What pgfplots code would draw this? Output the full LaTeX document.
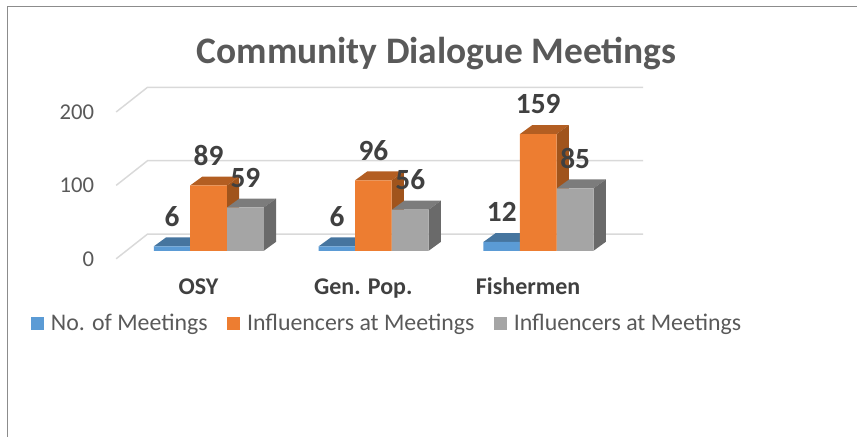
\documentclass[border=0pt]{standalone}
\usepackage{pgfplots}
\pgfplotsset{compat=1.18}
\usepackage{fontspec}
\setmainfont{Carlito}
\definecolor{cblue}{HTML}{5B9BD5}\definecolor{cblueT}{HTML}{46759F}\definecolor{cblueS}{HTML}{3F6A91}
\definecolor{corange}{HTML}{ED7D31}\definecolor{corangeT}{HTML}{B35E22}\definecolor{corangeS}{HTML}{A0541C}
\definecolor{cgray}{HTML}{A5A5A5}\definecolor{cgrayT}{HTML}{7C7C7C}\definecolor{cgrayS}{HTML}{6A6A6A}
\definecolor{cgrid}{HTML}{D9D9D9}
\definecolor{clabel}{HTML}{404040}
\definecolor{ctext}{HTML}{595959}
% depth of a bar in axis units
\newcommand{\bw}{0.2224}
\newcommand{\dx}{0.0745}
\newcommand{\dy}{12.2}
% top and side face of the bar whose left front edge is at #1, value #2
\newcommand{\faces}[4]{%
  \addplot[forget plot,fill=#3,draw=none] coordinates {({#1},#2) ({#1+\dx},{#2+\dy}) ({#1+\bw+\dx},{#2+\dy}) ({#1+\bw},#2)} --cycle;
  \addplot[forget plot,fill=#4,draw=none] coordinates {({#1+\bw},#2) ({#1+\bw+\dx},{#2+\dy}) ({#1+\bw+\dx},{\dy}) ({#1+\bw},0)} --cycle;
}
\newcommand{\gridl}[1]{%
  \addplot[forget plot,draw=cgrid,line width=1.1pt] coordinates {(-0.499,{#1-10.9}) (-0.309,{#1+22.7}) (2.697,{#1+22.7})};
}
\pgfplotsset{labelled/.style={forget plot,draw=none,mark=none,nodes near coords,point meta=y,
  /pgf/number format/assume math mode=true,
  every node near coord/.style={font=\fontsize{22}{24}\bfseries\selectfont,text=clabel,anchor=center,yshift=22.5pt,
    /pgf/number format/assume math mode=true}}}
\begin{document}
\begin{tikzpicture}[x=0.75pt,y=-0.75pt]
\path (0,0) rectangle (858,437);
\draw[color=black!45,line width=1.1pt] (7.5,437) -- (7.5,6.7) -- (858,6.7);
\node[font=\fontsize{28.1}{30}\bfseries\selectfont,text=ctext,anchor=center] at (437,54) {Community Dialogue Meetings};
\begin{axis}[
  at={(87.2pt,-194.25pt)},anchor=south west,
  scale only axis,width=395.5pt,height=128.7pt,
  xmin=-0.499,xmax=2.697,ymin=-10.9,ymax=222.7,
  clip=false,
  axis line style={draw=none},
  tick style={draw=none},
  xtick={0,1,2},xticklabels={OSY,Gen. Pop.,Fishermen},
  ytick={-10.9,89.1,189.1},yticklabels={0,100,200},
  y tick label style={font=\fontsize{17}{18}\selectfont,text=ctext,xshift=-13pt},
  x tick label style={font=\fontsize{18}{20}\bfseries\selectfont,text=clabel,anchor=base,yshift=-27pt},
  legend style={at={(-0.1612,-0.376)},anchor=west,draw=none,fill=none,
    font=\fontsize{17.9}{20}\selectfont,text=ctext,inner sep=0pt,outer sep=0pt,
    /tikz/every even column/.append style={column sep=12.7pt},
    /tikz/every odd column/.append style={column sep=3pt}},
  legend columns=3,
  legend image code/.code={\fill[#1,draw=none] (0,-4.9pt) rectangle (9.8pt,4.9pt);},
]
\gridl{0}\gridl{100}\gridl{200}
% No. of Meetings
\faces{-0.271}{6}{cblueT}{cblueS}
\faces{0.729}{6}{cblueT}{cblueS}
\faces{1.729}{12}{cblueT}{cblueS}
\addplot[ybar,bar width=0.2224,bar shift=-0.1598,fill=cblue,draw=none] coordinates {(0,6) (1,6) (2,12)};
\addlegendentry{No. of Meetings}
% Influencers at Meetings
\faces{-0.05}{89}{corangeT}{corangeS}
\faces{0.95}{96}{corangeT}{corangeS}
\faces{1.95}{159}{corangeT}{corangeS}
\addplot[ybar,bar width=0.2224,bar shift=0.0612,fill=corange,draw=none] coordinates {(0,89) (1,96) (2,159)};
\addlegendentry{Influencers at Meetings}
% Influencers at Meetings (second)
\faces{0.174}{59}{cgrayT}{cgrayS}
\faces{1.174}{56}{cgrayT}{cgrayS}
\faces{2.174}{85}{cgrayT}{cgrayS}
\addplot[ybar,bar width=0.2224,bar shift=0.2852,fill=cgray,draw=none] coordinates {(0,59) (1,56) (2,85)};
\addlegendentry{Influencers at Meetings}
% data labels
\addplot[labelled] coordinates {(-0.1598,6) (0.8402,6) (1.8402,12)};
\addplot[labelled] coordinates {(0.0612,89) (1.0612,96) (2.0612,159)};
\addplot[labelled] coordinates {(0.2852,59) (1.2852,56) (2.2852,85)};
\end{axis}
\end{tikzpicture}
\end{document}
